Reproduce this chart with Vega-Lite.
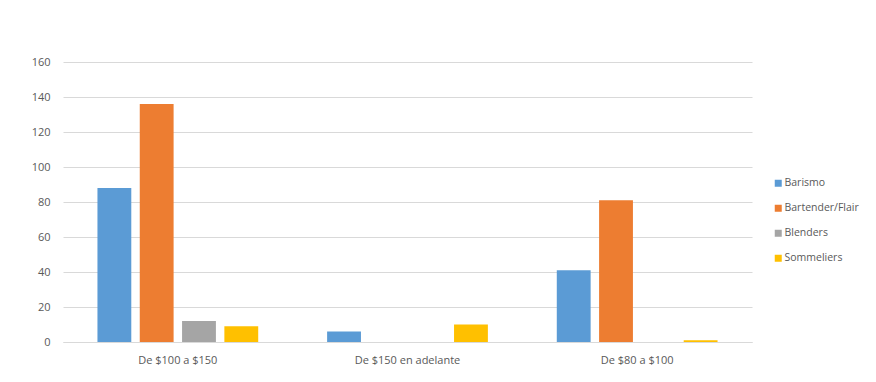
{
  "$schema": "https://vega.github.io/schema/vega-lite/v6.json",
  "width": 689,
  "height": 280,
  "autosize": {"type": "none"},
  "padding": {"left": 63, "top": 62, "right": 124, "bottom": 40},
  "background": "white",
  "data": {
    "values": [
      {"rango": "De $100 a $150", "serie": "Barismo", "valor": 88},
      {"rango": "De $100 a $150", "serie": "Bartender/Flair", "valor": 136},
      {"rango": "De $100 a $150", "serie": "Blenders", "valor": 12},
      {"rango": "De $100 a $150", "serie": "Sommeliers", "valor": 9},
      {"rango": "De $150 en adelante", "serie": "Barismo", "valor": 6},
      {"rango": "De $150 en adelante", "serie": "Bartender/Flair", "valor": 0},
      {"rango": "De $150 en adelante", "serie": "Blenders", "valor": 0},
      {"rango": "De $150 en adelante", "serie": "Sommeliers", "valor": 10},
      {"rango": "De $80 a $100", "serie": "Barismo", "valor": 41},
      {"rango": "De $80 a $100", "serie": "Bartender/Flair", "valor": 81},
      {"rango": "De $80 a $100", "serie": "Blenders", "valor": 0},
      {"rango": "De $80 a $100", "serie": "Sommeliers", "valor": 1}
    ]
  },
  "mark": {"type": "bar"},
  "encoding": {
    "x": {
      "field": "rango",
      "type": "nominal",
      "sort": ["De $100 a $150", "De $150 en adelante", "De $80 a $100"],
      "scale": {"paddingInner": 0.3, "paddingOuter": 0.15},
      "axis": {
        "title": null,
        "labelAngle": 0,
        "ticks": false,
        "domainColor": "#D9D9D9",
        "labelPadding": 12,
        "labelFont": "Open Sans",
        "labelFontSize": 11,
        "labelColor": "#595959"
      }
    },
    "xOffset": {
      "field": "serie",
      "sort": ["Barismo", "Bartender/Flair", "Blenders", "Sommeliers"],
      "scale": {"paddingInner": 0.2}
    },
    "y": {
      "field": "valor",
      "type": "quantitative",
      "scale": {"domain": [0, 160]},
      "axis": {
        "title": null,
        "values": [0, 20, 40, 60, 80, 100, 120, 140, 160],
        "domain": false,
        "ticks": false,
        "gridColor": "#D9D9D9",
        "labelPadding": 13,
        "labelFont": "Open Sans",
        "labelFontSize": 11,
        "labelColor": "#595959"
      }
    },
    "color": {
      "field": "serie",
      "type": "nominal",
      "scale": {
        "domain": ["Barismo", "Bartender/Flair", "Blenders", "Sommeliers"],
        "range": ["#5B9BD5", "#ED7D31", "#A5A5A5", "#FFC000"]
      },
      "legend": {
        "title": null,
        "orient": "none",
        "legendX": 710,
        "legendY": 116,
        "symbolType": "square",
        "symbolSize": 49,
        "symbolStrokeWidth": 0,
        "labelFont": "Open Sans",
        "labelFontSize": 10.5,
        "labelColor": "#595959",
        "labelOffset": 1,
        "rowPadding": 14
      }
    }
  },
  "config": {"view": {"stroke": null}}
}
